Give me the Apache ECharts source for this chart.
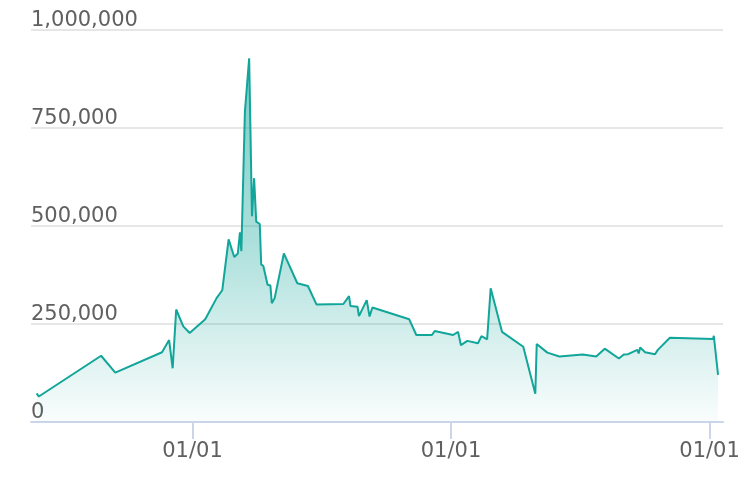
<!DOCTYPE html>
<html>
<head>
<meta charset="utf-8">
<script src="https://cdn.jsdelivr.net/npm/echarts@6/dist/echarts.min.js"></script>
<style>html,body{margin:0;padding:0;background:#fff}#c{width:746px;height:480px}</style>
</head>
<body>
<div id="c"></div>
<script>
var dates = ['2017-05-26','2017-05-29','2017-08-25','2017-09-14','2017-11-19','2017-11-29','2017-12-04','2017-12-09','2017-12-19','2017-12-28',
'2018-01-19','2018-02-04','2018-02-12','2018-02-21','2018-03-01','2018-03-06','2018-03-09','2018-03-11','2018-03-16','2018-03-17','2018-03-22',
'2018-03-26','2018-03-29','2018-04-01','2018-04-06','2018-04-08','2018-04-11','2018-04-17','2018-04-21','2018-04-23','2018-04-27','2018-04-29',
'2018-05-10','2018-05-29','2018-06-13','2018-06-25','2018-08-02','2018-08-10','2018-08-12','2018-08-22','2018-08-24','2018-09-04','2018-09-08',
'2018-09-12','2018-11-03','2018-11-13','2018-12-05','2018-12-09','2019-01-04','2019-01-11','2019-01-15','2019-01-24','2019-02-08','2019-02-13',
'2019-02-21','2019-02-26','2019-03-14','2019-04-13','2019-04-30','2019-05-02','2019-05-17','2019-06-03','2019-07-06','2019-07-25','2019-08-06',
'2019-08-26','2019-09-02','2019-09-08','2019-09-21','2019-09-23','2019-09-25','2019-10-02','2019-10-16','2019-10-20','2019-11-06','2020-01-06',
'2020-01-07','2020-01-13'];
var values = [73000,65000,169000,126000,178000,209000,137000,287000,244000,227000,
262000,316000,336000,466000,421000,430000,484000,436000,792000,790000,928000,
525000,622000,511000,505000,402000,398000,350000,348000,303000,316000,321000,
430000,354000,347000,300000,301000,321000,296000,294000,270000,311000,269000,
292000,262000,222000,222000,232000,222000,230000,196000,207000,201000,219000,
211000,341000,230000,192000,72000,199000,177000,167000,172000,167000,187000,
162000,172000,173000,184000,175000,190000,178000,173000,184000,215000,212000,
220000,120000];
var tickDates = ['2018-01-01','2019-01-01','2020-01-01'];
var yTicks = [0,250000,500000,750000,1000000];
var xMin = '2017-05-18', xMax = '2020-01-20';

function ts(s){var p=s.split('-');return new Date(+p[0],+p[1]-1,+p[2]).getTime();}
var seriesData = dates.map(function(d,i){return [ts(d), values[i]];});
var tickTs = tickDates.map(ts);

var chart = echarts.init(document.getElementById('c'), null, {renderer:'canvas'});
chart.setOption({
  animation:false,
  backgroundColor:'#fff',
  grid:{left:31,right:23,top:30,bottom:58,containLabel:false},
  xAxis:{
    type:'value', min:ts(xMin), max:ts(xMax),
    axisLine:{show:true,lineStyle:{color:'#ccd6eb',width:2}},
    axisTick:{show:true,length:17,customValues:tickTs,lineStyle:{color:'#ccd6eb',width:2}},
    axisLabel:{customValues:tickTs,margin:19,fontSize:21,color:'#606060',fontFamily:'DejaVu Sans',
      formatter:function(v){var d=new Date(v);var m=d.getMonth()+1, dd=d.getDate();return (m<10?'0':'')+m+'/'+(dd<10?'0':'')+dd;}},
    splitLine:{show:false}
  },
  yAxis:{
    type:'value', min:0, max:1000000, interval:250000,
    axisLine:{show:false}, axisTick:{show:false},
    axisLabel:{inside:true,margin:0,align:'left',verticalAlign:'bottom',fontSize:21,color:'#606060',fontFamily:'DejaVu Sans',
      padding:[0,0,-1,0],
      formatter:function(v){return v.toString().replace(/\B(?=(\d{3})+(?!\d))/g, ',');}},
    splitLine:{show:true,lineStyle:{color:'#e6e6e6',width:2}}
  },
  series:[{
    type:'line', data:seriesData, showSymbol:false, symbol:'none',
    lineStyle:{color:'#12a59a',width:2},
    itemStyle:{color:'#12a59a'},
    areaStyle:{color:new echarts.graphic.LinearGradient(0,0,0,1,[
      {offset:0,color:'rgba(18,165,154,0.8)'},
      {offset:0.5,color:'rgba(18,165,154,0.5)'},
      {offset:1,color:'rgba(18,165,154,0.03)'}])}
  }]
});
</script>
</body>
</html>
